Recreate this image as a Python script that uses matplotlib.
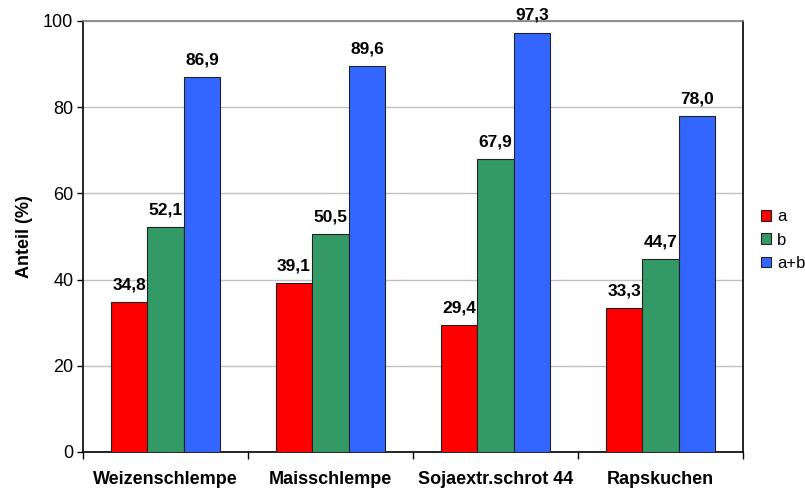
import numpy as np
import matplotlib
matplotlib.use('AGG')
import matplotlib.pyplot as plt

plt.rcParams['font.family'] = ['Liberation Sans', 'DejaVu Sans']

kategorien = ['Weizenschlempe', 'Maisschlempe', 'Sojaextr.schrot 44', 'Rapskuchen']
werte_a = [34.8, 39.1, 29.4, 33.3]
werte_b = [52.1, 50.5, 67.9, 44.7]
werte_ab = [86.9, 89.6, 97.3, 78.0]
serien = ['a', 'b', 'a+b']
farben = ['#FF0000', '#339966', '#3366FF']

fig = plt.figure(figsize=(8.05, 4.88), dpi=100)
ax = fig.add_axes([0.1031, 0.0738, 0.8199, 0.8832])

x = np.arange(len(kategorien))
breite = 0.221
for i, (werte, name, farbe) in enumerate(zip([werte_a, werte_b, werte_ab], serien, farben)):
    pos = x + (i - 1) * breite
    bars = ax.bar(pos, werte, breite, color=farbe, edgecolor='#222222', linewidth=0.8,
                  label=name, zorder=3)
    for b, v in zip(bars, werte):
        ax.annotate(('%.1f' % v).replace('.', ','), (b.get_x() + b.get_width() / 2, v),
                    xytext=(0, 7), textcoords='offset points', ha='center', va='bottom',
                    fontsize=12.5, fontweight='bold')

ax.set_xlim(-0.5, len(kategorien) - 0.5)
ax.set_ylim(0, 100)
ax.set_yticks(range(0, 101, 20))
ax.tick_params(axis='y', labelsize=13, length=4, width=1, pad=3)
ax.yaxis.grid(True, color='#C0C0C0', linewidth=1, zorder=0)

# Kategorien zwischen den Gruppen abgrenzen, Beschriftung mittig
ax.set_xticks(np.arange(-0.5, len(kategorien), 1.0))
ax.set_xticklabels([])
ax.set_xticks(x, minor=True)
ax.set_xticklabels(kategorien, minor=True, fontsize=13, fontweight='bold')
ax.tick_params(axis='x', which='major', length=5, width=1)
ax.tick_params(axis='x', which='minor', length=0, pad=14)

ax.set_ylabel('Anteil (%)', fontsize=13, fontweight='bold', labelpad=7)

for s in ['left', 'right', 'bottom']:
    ax.spines[s].set_color('black')
    ax.spines[s].set_linewidth(1.2)
ax.spines['top'].set_color('#808080')
ax.spines['top'].set_linewidth(1.2)

leg = fig.legend(loc='upper left', bbox_to_anchor=(0.937, 0.585), frameon=False,
                 fontsize=12, handlelength=0.6, handleheight=0.6,
                 handletextpad=0.35, labelspacing=0.5, borderaxespad=0)

fig.savefig('out.png', dpi=100)
